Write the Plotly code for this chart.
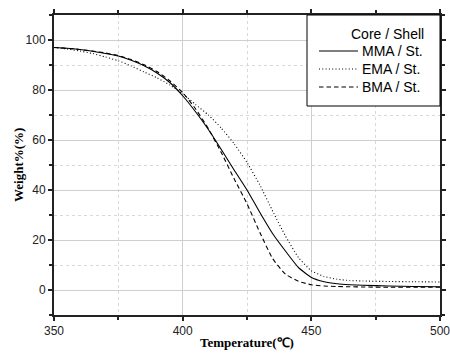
import plotly.graph_objects as go

temp = [350, 355, 360, 365, 370, 375, 380, 385, 390, 395, 400, 405, 410, 415, 420, 425,
        430, 435, 440, 445, 450, 455, 460, 465, 470, 480, 490, 500]
mma = [97.0, 96.7, 96.2, 95.5, 94.6, 93.6, 91.9, 89.7, 86.8, 83.0, 77.7, 71.3, 64.2, 56.2, 48.0, 40.0,
       31.0, 22.5, 15.5, 9.0, 5.0, 3.3, 2.5, 2.1, 1.9, 1.6, 1.4, 1.3]
ema = [97.0, 96.4, 95.6, 94.6, 93.2, 91.7, 89.6, 87.2, 84.9, 82.0, 78.5, 74.2, 70.0, 64.8, 58.5, 51.0,
       42.0, 31.5, 21.5, 13.0, 7.7, 5.4, 4.3, 3.8, 3.6, 3.4, 3.3, 3.2]
bma = [97.0, 96.7, 96.2, 95.6, 94.8, 93.8, 92.2, 90.1, 87.4, 83.7, 79.0, 72.5, 64.5, 55.0, 44.5, 34.5,
       23.0, 12.5, 6.3, 3.5, 2.1, 1.6, 1.4, 1.3, 1.2, 1.1, 1.1, 1.1]
names = ["MMA / St.", "EMA / St.", "BMA / St."]
legend_title = "Core / Shell"
dashes = ["solid", "1px,2.3px", "4.5px,3px"]

fig = go.Figure()
for name, ys, d in zip(names, [mma, ema, bma], dashes):
    fig.add_trace(go.Scatter(x=temp, y=ys, mode="lines", name=name, showlegend=False,
                             line=dict(color="black", width=1.1, dash=d, shape="spline", smoothing=0.5)))

axis_common = dict(
    showline=True, linecolor="#222", linewidth=2, mirror="allticks",
    ticks="outside", ticklen=4, tickwidth=1.5, tickcolor="#222",
    showgrid=True, gridcolor="#cfcfcf", gridwidth=1, zeroline=False, automargin=False,
    ticklabeloverflow="allow",
    tickfont=dict(family="Liberation Sans, Arial", size=12, color="#222"),
)

fig.update_xaxes(range=[350, 500], dtick=50, tick0=350,
                 minor=dict(dtick=25, showgrid=True, gridcolor="#d8d8d8", griddash="dot",
                            ticks="outside", ticklen=3, tickcolor="#222"),
                 **axis_common)
fig.update_yaxes(range=[-10, 110], dtick=20, tick0=0,
                 minor=dict(dtick=10, showgrid=True, gridcolor="#d8d8d8", griddash="dot",
                            ticks="outside", ticklen=3, tickcolor="#222"),
                 **axis_common)

# plot area geometry (px) for manual legend placement
L, R, T, B = 54, 440, 15, 315
W, H = R - L, B - T
px = lambda x: (x - L) / W
py = lambda y: (B - y) / H

shapes = [dict(type="rect", xref="paper", yref="paper", x0=px(307), x1=1.0, y0=py(106), y1=1.0,
               line=dict(color="black", width=1), fillcolor="white", layer="above")]
annotations = [
    dict(text=legend_title, xref="paper", yref="paper", x=px(426), y=py(34), xanchor="right",
         yanchor="middle", showarrow=False, font=dict(family="Liberation Sans, Arial", size=14, color="black")),
    dict(text="Temperature(℃)", xref="paper", yref="paper", x=0.5, y=py(342), xanchor="center",
         yanchor="middle", showarrow=False,
         font=dict(family="Liberation Serif, Times New Roman", size=13, color="black", weight="bold")),
    dict(text="Weight%(%)", xref="paper", yref="paper", x=px(18), y=0.5, xanchor="center",
         yanchor="middle", showarrow=False, textangle=-90,
         font=dict(family="Liberation Serif, Times New Roman", size=13, color="black", weight="bold")),
]
item_y = [51, 69, 87]
for name, d, yy in zip(names, dashes, item_y):
    shapes.append(dict(type="line", xref="paper", yref="paper", x0=px(319), x1=px(358), y0=py(yy), y1=py(yy),
                       line=dict(color="black", width=1.1, dash=d), layer="above"))
    annotations.append(dict(text=name, xref="paper", yref="paper", x=px(360), y=py(yy), xanchor="left",
                            yanchor="middle", showarrow=False,
                            font=dict(family="Liberation Sans, Arial", size=14, color="black")))

fig.update_layout(
    width=450, height=361,
    margin=dict(l=L, r=450 - R, t=T, b=361 - B),
    paper_bgcolor="white", plot_bgcolor="white",
    font=dict(family="Liberation Sans, Arial", size=12, color="black"),
    shapes=shapes, annotations=annotations,
)

fig.write_html("out.html", config={"displayModeBar": False},
               post_script="document.body.style.margin='0px';")
